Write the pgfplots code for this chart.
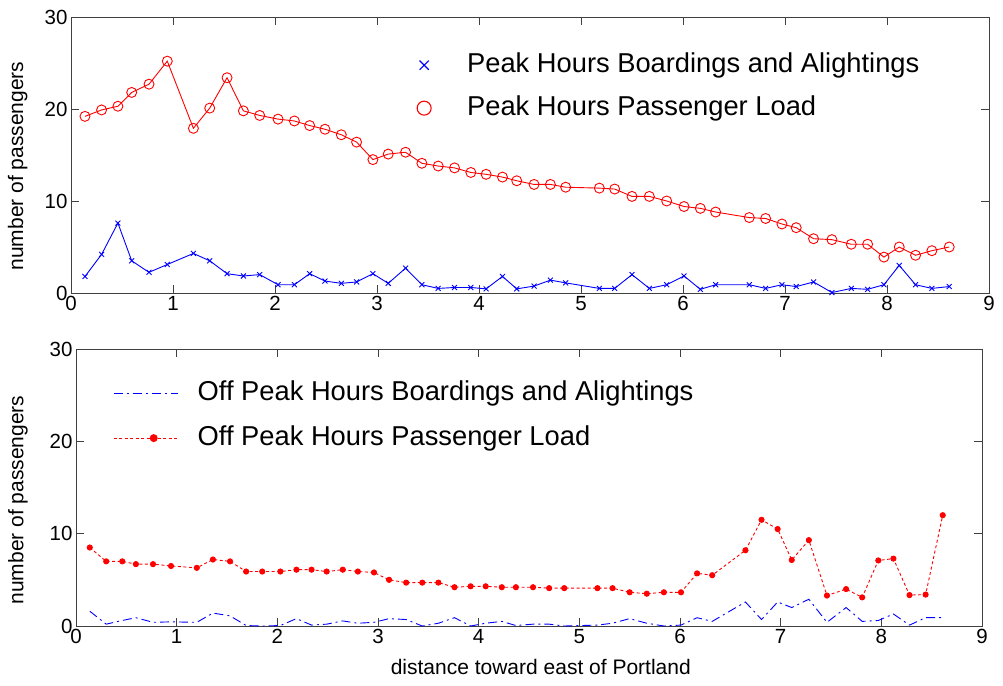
\documentclass[border=0pt]{standalone}
\usepackage{fontspec}
\setmainfont{Liberation Sans}
\usepackage{pgfplots}
\usepackage{pgfplotstable}
\pgfplotsset{compat=1.18}

\pgfplotstableread{
x    pb    pl    ob    ol
0.137 1.8  19.2  1.6  8.5
0.30  4.2  19.9  0.2  7.0
0.46  7.6  20.3  0.6  7.0
0.595 3.5  21.8  0.9  6.7
0.765 2.25 22.7  0.4  6.7
0.944 3.1  25.2  0.45 6.5
1.20  4.3  17.9  0.4  6.3
1.36  3.5  20.1  1.4  7.2
1.53  2.1  23.4  1.1  7.0
1.69  1.85 19.8  0.05 5.9
1.85  2.0  19.3  0.0  5.9
2.03  0.9  18.9  0.05 5.9
2.19  0.9  18.7  0.8  6.1
2.34  2.1  18.2  0.1  6.1
2.49  1.3  17.8  0.2  5.9
2.65  1.05 17.2  0.55 6.1
2.80  1.2  16.4  0.3  5.9
2.96  2.1  14.5  0.4  5.8
3.11  1.05 15.1  0.8  5.0
3.28  2.7  15.3  0.7  4.7
3.44  0.9  14.1  0.0  4.7
3.60  0.5  13.8  0.3  4.7
3.76  0.6  13.6  0.9  4.2
3.92  0.6  13.1  0.0  4.3
4.07  0.45 12.9  0.3  4.3
4.23  1.8  12.6  0.5  4.2
4.37  0.45 12.2  0.05 4.2
4.54  0.75 11.8  0.2  4.2
4.70  1.4  11.8  0.2  4.1
4.85  1.1  11.5  0.0  4.1
5.18  0.5  11.4  0.1  4.1
5.33  0.5  11.3  0.3  4.1
5.50  2.0  10.5  0.8  3.65
5.67  0.5  10.5  0.3  3.5
5.84  0.9  10.0  0.0  3.65
6.01  1.85 9.4   0.1  3.65
6.17  0.4  9.2   0.9  5.7
6.32  0.9  8.8   0.5  5.5
6.65  0.9  8.2   2.6  8.2
6.81  0.5  8.1   0.7  11.5
6.97  0.9  7.5   2.6  10.5
7.11  0.7  7.1   2.0  7.15
7.28  1.2  5.9   2.9  9.3
7.46  0.05 5.8   0.4  3.3
7.65  0.5  5.3   2.0  4.0
7.81  0.4  5.3   0.5  3.1
7.97  0.9  3.9   0.6  7.1
8.12  3.0  5.0   1.3  7.3
8.28  0.9  4.1   0.1  3.35
8.44  0.5  4.6   0.9  3.4
8.61  0.7  5.0   0.9  12.0
}\data

\pgfplotsset{
  mystyle/.style={
    scale only axis,
    xmin=0, xmax=9, ymin=0, ymax=30,
    xtick={0,1,...,9}, ytick={0,10,20,30},
    tick align=inside,
    major tick length=8pt,
    axis line style={black!75, line width=1pt},
    every tick/.style={black!75, line width=1pt},
    tick label style={font=\fontsize{20.5}{22}\selectfont},
    /pgf/number format/assume math mode=true,
    label style={font=\fontsize{21}{24}\selectfont},
    ylabel={number of passengers},
    legend cell align=left,
  }
}

\begin{document}
\begin{tikzpicture}
\path[use as bounding box] (0pt,-685pt) rectangle (1003pt,0pt);

% ---------------- top axis
\begin{axis}[mystyle,
  at={(71pt,-293pt)}, anchor=south west,
  width=918pt, height=276pt,
  ylabel style={at={(axis description cs:-0.058,0.46)}, anchor=center},
  legend style={draw=none, fill=none, inner sep=0pt,
    at={(axis description cs:0.3736,0.877)}, anchor=north west,
    font=\fontsize{27.3}{30}\selectfont, row sep=15pt,
    nodes={inner sep=0pt, text height=21pt, text depth=7pt}},
  legend image code/.code={\path[draw=none, fill=none] (-10pt,-5pt) rectangle (43pt,5pt);
    \draw[#1] plot coordinates {(0pt,0pt)};},
]
\addplot[blue, line width=0.9pt, mark=x, mark size=3.5pt, mark options={solid}, forget plot] table[x=x,y=pb] {\data};
\addplot[red, line width=0.9pt, mark=o, mark size=5pt, mark options={solid}, forget plot] table[x=x,y=pl] {\data};
\addlegendimage{only marks, blue, mark=x, mark size=6.5pt, line width=1.1pt}
\addlegendentry{Peak Hours Boardings and Alightings}
\addlegendimage{only marks, red, mark=o, mark size=7pt, line width=1.1pt}
\addlegendentry{Peak Hours Passenger Load}
\end{axis}

% ---------------- bottom axis
\begin{axis}[mystyle,
  at={(76pt,-626pt)}, anchor=south west,
  width=906pt, height=277pt,
  ylabel style={at={(axis description cs:-0.064,0.455)}, anchor=center},
  xlabel={distance toward east of Portland},
  xlabel style={at={(axis description cs:0.513,-0.148)}, anchor=center},
  legend style={draw=none, fill=none, inner sep=0pt,
    at={(axis description cs:0.0408,0.892)}, anchor=north west,
    font=\fontsize{27.3}{30}\selectfont, row sep=17pt,
    nodes={inner sep=0pt, text height=21pt, text depth=7pt}},
  legend image code/.code={\path[draw=none, fill=none] (0pt,-5pt) rectangle (84pt,5pt);
    \draw[mark repeat=2, mark phase=2, #1] plot coordinates {(0pt,0pt) (40pt,0pt) (64pt,0pt)};},
]
\addplot[blue, line width=0.9pt, no marks, dash pattern=on 9pt off 4pt on 2pt off 4pt, forget plot] table[x=x,y=ob] {\data};
\addplot[red, line width=0.9pt, mark=*, mark size=2.6pt, mark options={solid}, dash pattern=on 3pt off 2.5pt, forget plot] table[x=x,y=ol] {\data};
\addlegendimage{draw=blue, line width=1.1pt, no marks, dash pattern=on 9pt off 4pt on 2pt off 4pt}
\addlegendentry{Off Peak Hours Boardings and Alightings}
\addlegendimage{red, line width=0.9pt, mark=*, mark size=3.5pt, mark options={solid}, dash pattern=on 3pt off 2.5pt}
\addlegendentry{Off Peak Hours Passenger Load}
\end{axis}
\end{tikzpicture}
\end{document}
